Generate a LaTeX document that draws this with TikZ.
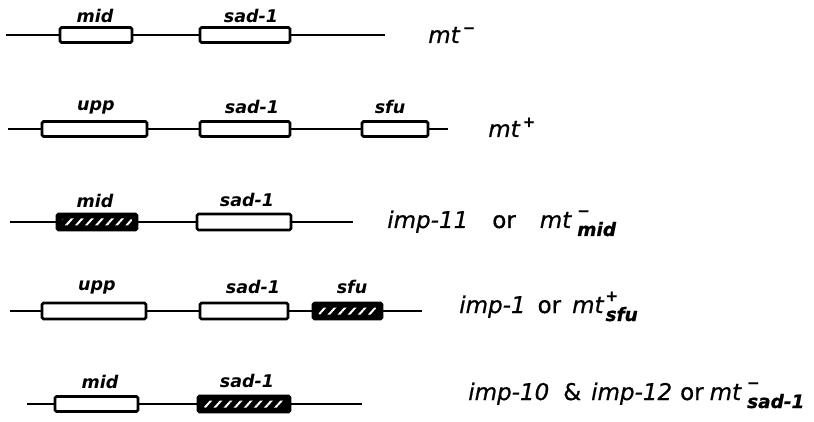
\documentclass[tikz,border=0pt]{standalone}
\usepackage{fontspec}
\setmainfont{DejaVu Sans}
\newfontfamily\heavyfont{DejaVu Sans}[FakeBold=0.7]
\usetikzlibrary{patterns.meta}
\newcommand\genelab{\fontsize{17.5}{17.5}\selectfont\bfseries\itshape}
\newcommand\subfont{\fontsize{18.5}{18.5}\selectfont\bfseries\itshape}
\newcommand\rtxt{\heavyfont\fontsize{23}{23}\selectfont\itshape}
\newcommand\ortxt{{\upshape or}}
\newcommand\mtsup[1]{\hspace{3pt}\raisebox{10pt}{\fontsize{15}{15}\selectfont\bfseries\upshape #1}}
\newcommand\mtsupsub[3]{\hspace{#3}\makebox[0pt][l]{\raisebox{12pt}{\fontsize{15}{15}\selectfont\bfseries\upshape #1}}\raisebox{-8pt}{\subfont #2}}
\begin{document}
\begin{tikzpicture}[x=1pt,y=-1pt,line width=2.6pt,
  gene/.style={draw,line width=2.8pt,rounded corners=1.5pt,inner sep=0pt,fill=white},
  mutgene/.style={gene,fill=black,
    path picture={\fill[pattern={Lines[angle=48,distance=7.5pt,line width=2pt]},pattern color=white]
      ([xshift=5pt,yshift=-4.5pt]path picture bounding box.north west) rectangle
      ([xshift=-5pt,yshift=4.5pt]path picture bounding box.south east);}},
  lab/.style={font=\genelab,inner sep=0pt},
  res/.style={font=\rtxt,inner sep=0pt,anchor=base west}]
\useasboundingbox (0,0) rectangle (814,422);
% row 1
\coordinate (s1) at (6,35); \coordinate (e1) at (385,35);
\node[gene,minimum width=72pt,minimum height=15pt] (a1) at (96,35) {};
\node[gene,minimum width=90pt,minimum height=15pt] (b1) at (245,35) {};
\draw (s1) -- (a1.west) (a1.east) -- (b1.west) (b1.east) -- (e1);
\node[lab] (la1) at (95,16) {mid};
\node[lab] (lb1) at (251,16) {sad-1};
\node[res] (r1) at (427,43) {mt\mtsup{−}};
% row 2
\coordinate (s2) at (8,129); \coordinate (e2) at (448,129);
\node[gene,minimum width=105pt,minimum height=15pt] (a2) at (94.5,129) {};
\node[gene,minimum width=90pt,minimum height=15pt] (b2) at (245,129) {};
\node[gene,minimum width=66pt,minimum height=15pt] (c2) at (395,129) {};
\draw (s2) -- (a2.west) (a2.east) -- (b2.west) (b2.east) -- (c2.west) (c2.east) -- (e2);
\node[lab] (la2) at (96,107) {upp};
\node[lab] (lb2) at (252,107) {sad-1};
\node[lab] (lc2) at (390,107) {sfu};
\node[res] (r2) at (487,137) {mt\mtsup{+}};
% row 3
\coordinate (s3) at (10,222); \coordinate (e3) at (353,222);
\node[mutgene,minimum width=80pt,minimum height=16pt] (a3) at (97,222) {};
\node[gene,minimum width=94pt,minimum height=16pt] (b3) at (244,222) {};
\draw (s3) -- (a3.west) (a3.east) -- (b3.west) (b3.east) -- (e3);
\node[lab] (la3) at (95,201) {mid};
\node[lab] (lb3) at (247,200) {sad-1};
\node[res] (r3) at (386,228) {imp-11\hspace{24pt}\ortxt\hspace{24pt}mt\mtsupsub{−}{mid}{6pt}};
% row 4
\coordinate (s4) at (10,311); \coordinate (e4) at (422,311);
\node[gene,minimum width=104pt,minimum height=16pt] (a4) at (94,311) {};
\node[gene,minimum width=88pt,minimum height=16pt] (b4) at (244,311) {};
\node[mutgene,minimum width=69pt,minimum height=16pt] (c4) at (347.5,311) {};
\draw (s4) -- (a4.west) (a4.east) -- (b4.west) (b4.east) -- (c4.west) (c4.east) -- (e4);
\node[lab] (la4) at (97,287) {upp};
\node[lab] (lb4) at (253,287) {sad-1};
\node[lab] (lc4) at (352,287) {sfu};
\node[res] (r4) at (458,313) {imp-1\hspace{12pt}\ortxt\hspace{11pt}mt\mtsupsub{+}{sfu}{2pt}};
% row 5
\coordinate (s5) at (27,404); \coordinate (e5) at (362,404);
\node[gene,minimum width=83pt,minimum height=15pt] (a5) at (96.5,404) {};
\node[mutgene,minimum width=92pt,minimum height=16pt] (b5) at (244,404) {};
\draw (s5) -- (a5.west) (a5.east) -- (b5.west) (b5.east) -- (e5);
\node[lab] (la5) at (100,382) {mid};
\node[lab] (lb5) at (247,381) {sad-1};
\node[res] (r5) at (467,400) {imp-10\hspace{14pt}{\upshape\&}\hspace{10pt}imp-12\hspace{8pt}\ortxt\hspace{6pt}mt\mtsupsub{−}{sad-1}{6pt}};
\end{tikzpicture}
\end{document}
